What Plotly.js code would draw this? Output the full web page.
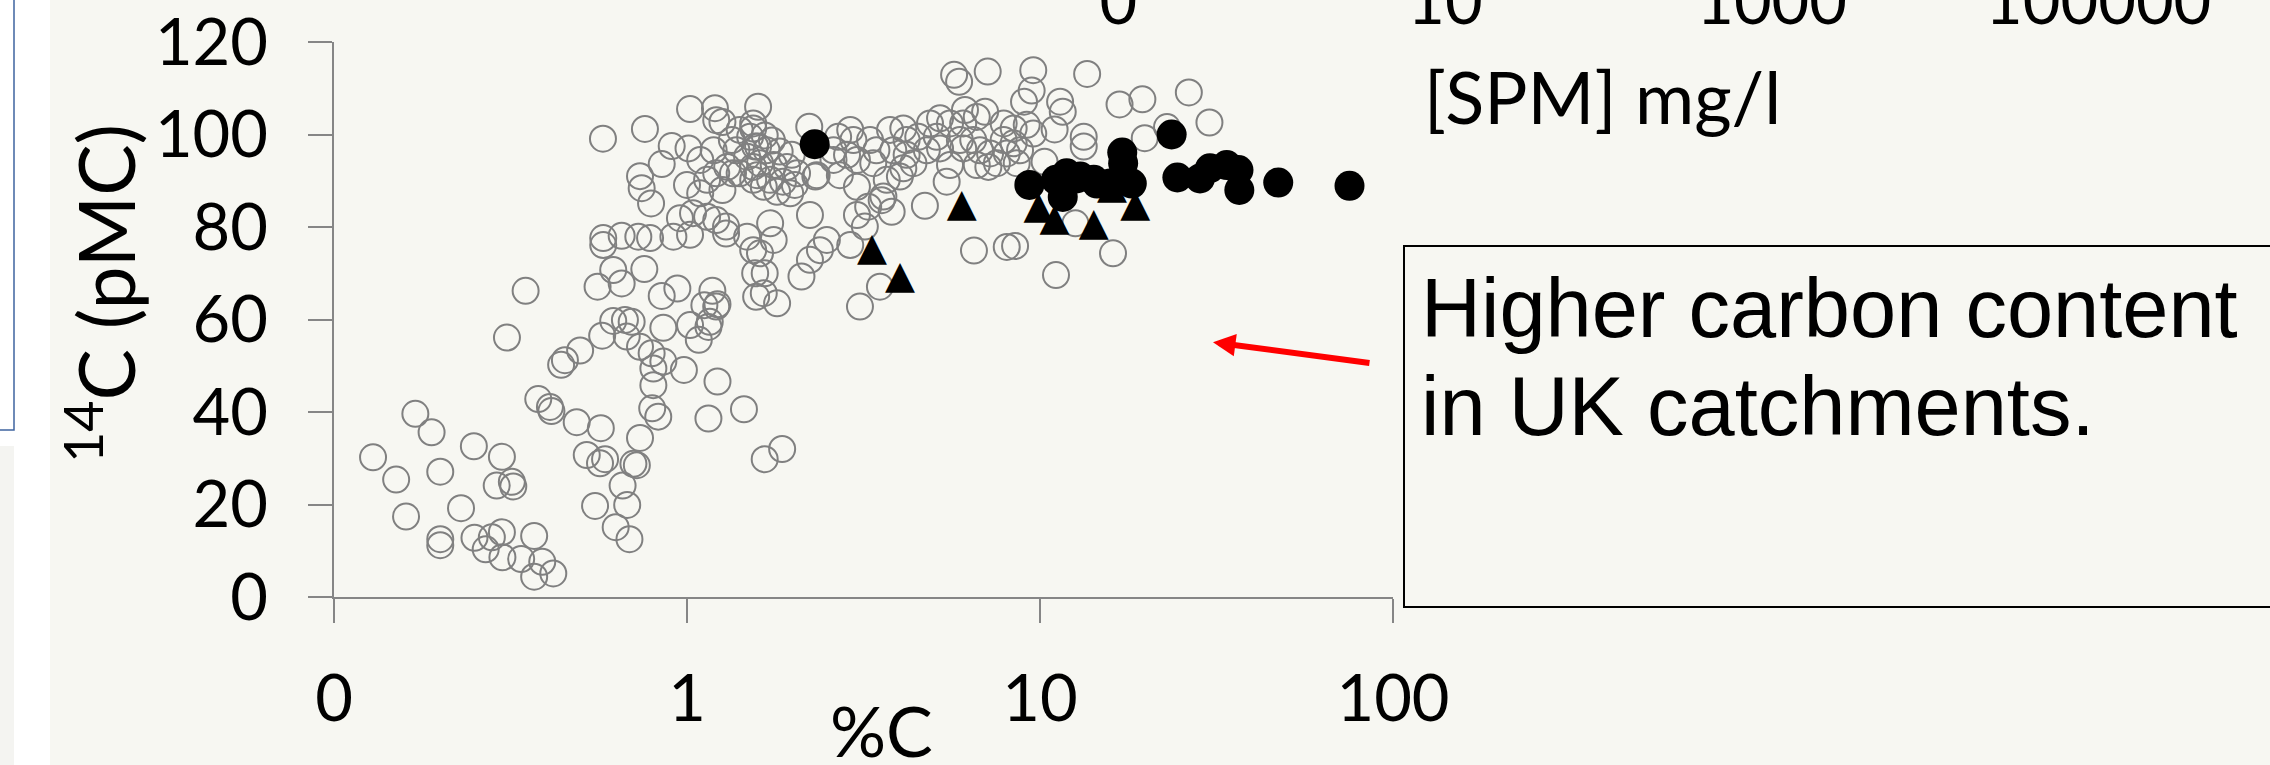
<!DOCTYPE html>
<html><head><meta charset="utf-8">
<script src="https://cdn.plot.ly/plotly-3.0.1.min.js"></script>
<style>html,body{margin:0;padding:0;background:#ffffff;} #chart{width:2270px;height:765px;}</style>
</head><body><div id="chart"></div>
<script>
// ---- data: open circles (all catchments) ----
const openX = [
0.129,0.150,0.160,0.170,0.189,0.200,0.200,0.200,0.229,0.249,0.299,0.289,0.319,0.322,0.250,0.280,0.269,0.299,0.300,0.339,
0.369,0.389,0.369,0.418,0.309,0.379,0.409,0.413,0.487,0.570,0.520,0.586,0.567,0.549,0.628,0.687,0.677,0.657,0.721,0.705,
0.736,0.440,0.451,0.498,0.575,0.618,0.667,0.697,0.675,0.736,0.794,0.803,0.857,0.803,0.797,0.829,0.857,0.98,1.02,1.08,
1.15,1.16,1.21,1.22,1.15,1.45,1.66,1.86,
0.349,0.578,0.760,1.02,1.20,1.21,1.26,1.59,0.905,1.01,0.848,0.736,0.744,0.791,1.00,1.09,1.19,1.09,1.26,0.955,
1.04,1.14,1.21,1.29,1.29,1.02,0.915,0.786,0.728,0.653,0.579,0.579,0.618,0.653,0.558,0.757,0.848,0.939,1.18,1.12,
1.22,1.48,1.54,1.56,1.57,1.34,1.41,1.51,1.38,1.48,1.30,1.41,1.54,1.35,1.21,1.14,1.54,1.59,1.54,
5.71,5.90,7.11,9.57,9.47,9.01,11.4,11.6,13.6,11.0,13.3,13.3,10.3,
6.50,8.05,8.5,11.1,12.6,3.09,3.52,2.11,2.49,2.38,2.23,2.9,3.19,1.72,1.76,1.61,1.66,1.65,1.80,2.23,3.03,2.31,2.22,
1.54,1.66,1.74,1.56,1.68,1.83,1.98,1.61,1.76,1.92,2.05,1.58,1.72,1.87,2.02,1.65,1.80,1.96,
2.60,2.68,2.90,2.96,2.60,2.84,3.03,2.33,2.71,3.03,3.30,3.44,3.76,4.10,4.19,4.52,3.84,4.19,4.38,4.10,4.01,3.68,3.60,3.80,3.26,3.56,4.72,3.37,
4.88,5.21,5.56,6.13,6.62,6.99,6.06,5.10,4.78,5.21,5.93,6.47,6.06,5.56,5.44,6.62,7.14,7.55,7.89,8.42,9.17,9.57,7.89,8.42,8.05,8.78,8.59,7.22,6.76,
16.8,19.5,26.4,30.2,22.9,19.8,16.1
];
const openY = [
30.2,25.4,17.4,39.6,35.6,27.1,12.5,11.2,19.2,32.6,30.3,24.1,24.9,23.9,12.8,12.9,10.3,14.0,8.6,8.2,
13.2,7.6,4.4,5.1,56.1,42.8,41.1,40.2,37.8,36.5,30.7,29.8,28.9,19.7,15.1,12.5,19.9,24.1,28.5,28.8,
34.4,50.2,51.2,53.3,56.5,59.7,59.9,59.5,56.3,54.1,52.7,49.4,50.9,45.8,40.8,39.0,58.2,49.1,58.8,55.6,
58.4,59.5,62.8,46.6,38.6,40.6,29.8,32.0,
66.2,99.1,101.2,105.5,105.7,103.1,102.7,106.0,97.5,97.0,93.6,91.0,88.4,85.1,89.1,94.5,96.6,87.3,88.0,81.9,
83.0,82.2,81.5,80.1,78.6,78.3,77.9,77.6,77.9,78.1,77.6,76.1,70.7,67.8,67.1,70.9,65.1,66.7,66.2,63.1,
63.3,77.9,75.0,70.0,64.9,98.8,101.0,99.5,96.6,95.2,93.0,91.6,90.2,91.6,91.6,90.2,93.0,97.4,102.4,
112.9,111.4,113.6,113.9,109.5,107.1,107.1,104.9,113.1,101.1,99.5,97.4,94.1,
74.9,75.7,75.9,69.6,80.8,62.8,67.1,69.3,77.2,75.0,72.9,76.1,80.1,80.8,77.2,74.3,70.0,65.7,63.5,82.6,82.6,90.9,101.7,
101.3,99.8,98.7,97.4,96.6,96.3,95.6,93.8,93.4,93.0,91.6,91.2,90.2,89.8,89.1,88.7,87.6,87.3,
96.6,99.5,101.0,98.8,94.5,95.6,94.5,91.2,91.2,88.7,98.8,96.6,101.0,101.3,98.8,99.5,96.6,95.6,93.8,92.7,90.9,90.2,86.6,83.3,84.4,85.8,84.6,93.8,
102.4,103.5,102.4,105.3,103.8,104.9,102.4,99.5,96.6,97.0,98.8,98.8,97.0,93.4,89.8,93.4,93.0,93.8,102.4,101.3,102.1,100.2,98.8,98.1,95.9,96.6,93.8,95.9,96.6,
106.5,107.6,109.1,102.6,101.6,99.2,74.3
];
// ---- data: filled circles (UK catchments) ----
const filledX = [2.30,9.33,11.1,11.6,11.9,12.7,13.0,14.2,14.5,15.8,17.1,17.2,18.2,23.6,24.5,28.4,30.3,33.8,36.5,36.7,47.3,75.3];
const filledY = [97.9,89.1,90.2,86.5,91.6,90.5,90.9,90.2,89.4,89.4,96.1,93.8,89.4,100.0,90.7,90.5,92.7,93.4,92.3,88.0,89.6,88.9];
// ---- data: triangles ----
const triX = [3.34,4.01,6.0,9.9,11.0,14.2,16.0,18.6];
const triY = [75.0,68.9,84.4,84.0,81.5,80.4,88.4,84.4];
// ---- axis ticks ----
const xTickVals = [0.1,1,10,100];
const xTickText = ["0","1","10","100"];
const yTickVals = [0,20,40,60,80,100,120];
const spmTickVals = [0.1,10,1000,100000];
const spmTickText = ["0","10","1000","100000"];

const W = 2270, H = 765;
const mL = 334, mR = 0, mT = 42, mB = 168;
const PW = W - mL - mR, PH = H - mT - mB;
const px = X => (X - mL) / PW;
const py = Y => (mT + PH - Y) / PH;

const BG = '#F7F7F2';
const AX = '#868686';
const tickFont = {family: 'Lato, sans-serif', size: 65, color: '#000'};

const traces = [
  {x: [], y: [], xaxis: 'x2', yaxis: 'y', type: 'scatter', mode: 'markers', hoverinfo: 'skip'},
  {x: openX, y: openY, type: 'scatter', mode: 'markers', hoverinfo: 'skip',
   marker: {symbol: 'circle-open', size: 26, color: '#808080', line: {width: 2, color: '#808080'}}},
  {x: filledX, y: filledY, type: 'scatter', mode: 'markers', hoverinfo: 'skip',
   marker: {symbol: 'circle', size: 30, color: '#000000', line: {width: 0}}},
  {x: triX, y: triY, type: 'scatter', mode: 'text', text: triX.map(() => '\u25B2'), textposition: 'middle center',
   hoverinfo: 'skip', cliponaxis: false, textfont: {family: 'DejaVu Sans', size: 39, color: '#000000'}}
];

const layout = {
  width: W, height: H, showlegend: false,
  margin: {l: mL, r: mR, t: mT, b: mB, pad: 0},
  paper_bgcolor: BG, plot_bgcolor: 'rgba(0,0,0,0)',
  xaxis: {domain: [0, 1059 / PW], type: 'log', range: [-1, 2], tickvals: xTickVals, ticktext: xTickText,
          ticks: 'outside', ticklen: 24, tickwidth: 2, tickcolor: AX, showline: true, linecolor: AX, linewidth: 2,
          showgrid: false, zeroline: false, tickfont: tickFont, ticklabelstandoff: 20, anchor: 'y'},
  yaxis: {domain: [0, 1], range: [0, 120], tickvals: yTickVals, ticks: 'outside', ticklen: 24, tickwidth: 2,
          tickcolor: AX, showline: true, linecolor: AX, linewidth: 2, showgrid: false, zeroline: false,
          tickfont: tickFont, ticklabelstandoff: 27, anchor: 'x'},
  xaxis2: {domain: [0.3, 1], anchor: 'y', side: 'top', type: 'log', range: [-2.2468, 6.0520],
           tickvals: spmTickVals, ticktext: spmTickText, ticks: '', showline: false, showgrid: false,
           zeroline: false, tickfont: tickFont, ticklabelstandoff: 4},
  shapes: [
    {type: 'rect', xref: 'paper', yref: 'paper', layer: 'below', x0: px(-5), x1: px(50), y0: py(-5), y1: py(770),
     fillcolor: '#ffffff', line: {width: 0}},
    {type: 'rect', xref: 'paper', yref: 'paper', layer: 'below', x0: px(-5), x1: px(14), y0: py(446), y1: py(770),
     fillcolor: '#F4F4F1', line: {width: 0}},
    {type: 'rect', xref: 'paper', yref: 'paper', layer: 'below', x0: px(-10), x1: px(14), y0: py(-10), y1: py(430),
     fillcolor: '#ffffff', line: {width: 1.5, color: '#3F64A0'}},
    {type: 'rect', xref: 'paper', yref: 'paper', layer: 'above', x0: px(1404), x1: px(2290), y0: py(246), y1: py(607),
     fillcolor: 'rgba(0,0,0,0)', line: {width: 2, color: '#000000'}}
  ],
  annotations: [
    {xref: 'paper', yref: 'paper', x: px(881), y: py(730), xanchor: 'center', yanchor: 'middle', showarrow: false,
     text: '%C', font: {family: 'Lato, sans-serif', size: 70, color: '#000'}},
    {xref: 'paper', yref: 'paper', x: px(1422), y: py(96), xanchor: 'left', yanchor: 'middle', showarrow: false,
     text: '[SPM] mg/l', font: {family: 'Lato, sans-serif', size: 72, color: '#000'}},
    {xref: 'paper', yref: 'paper', x: px(100), y: py(294), xanchor: 'center', yanchor: 'middle', showarrow: false,
     textangle: -90, text: '<sup>14</sup>C (pMC)', font: {family: 'Lato, sans-serif', size: 77, color: '#000'}},
    {xref: 'paper', yref: 'paper', x: px(1419), y: py(308), xanchor: 'left', yanchor: 'middle', showarrow: false,
     text: 'Higher carbon content', font: {family: 'Liberation Sans, Arial, sans-serif', size: 83, color: '#000'}},
    {xref: 'paper', yref: 'paper', x: px(1419), y: py(406), xanchor: 'left', yanchor: 'middle', showarrow: false,
     text: 'in UK catchments.', font: {family: 'Liberation Sans, Arial, sans-serif', size: 83, color: '#000'}},
    {xref: 'x', yref: 'y', x: 1.490, y: 55.1, ax: 158, ay: 21, axref: 'pixel', ayref: 'pixel', text: '',
     showarrow: true, arrowhead: 2, arrowsize: 0.75, arrowwidth: 6, arrowcolor: '#FF0000', standoff: 0}
  ]
};

Plotly.newPlot('chart', traces, layout, {staticPlot: true, displayModeBar: false});
</script>
</body></html>
